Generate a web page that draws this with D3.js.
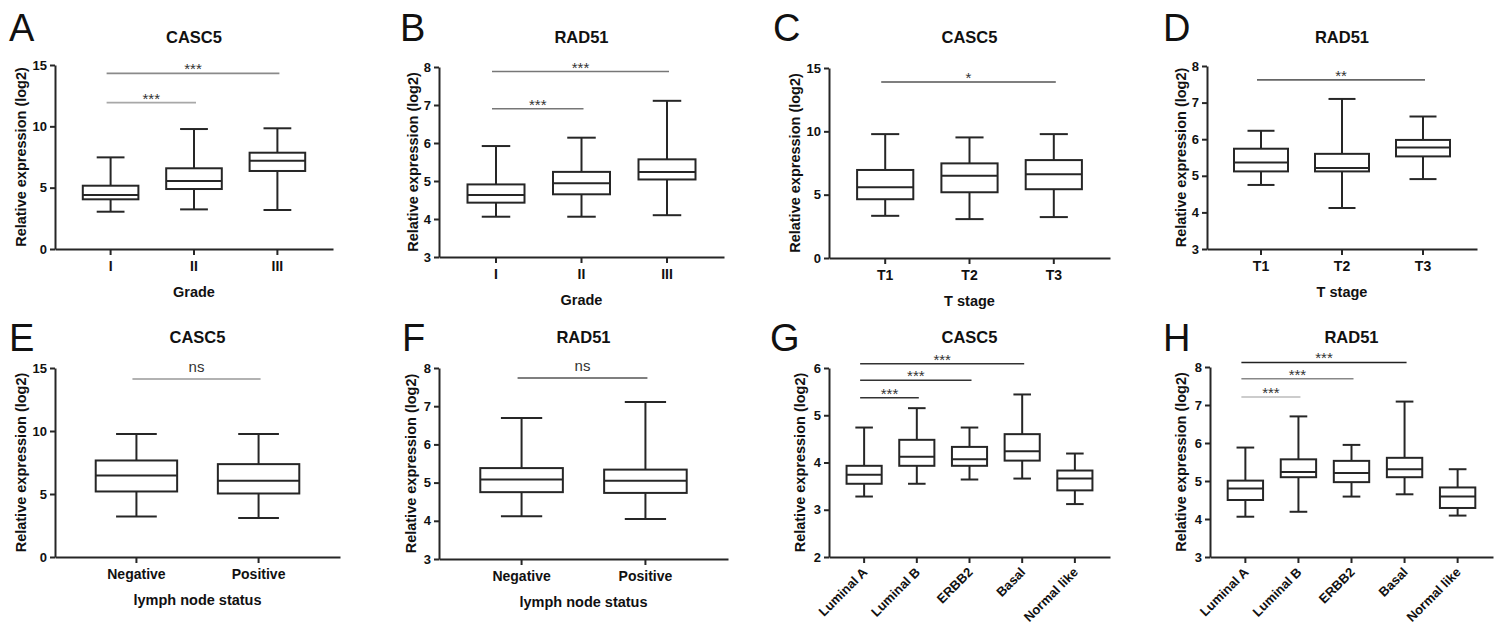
<!DOCTYPE html>
<html>
<head>
<meta charset="utf-8">
<script src="https://cdn.jsdelivr.net/npm/d3@7"></script>
<style>
  body { margin: 0; background: #fff; }
  svg { display: block; font-family: "Liberation Sans", Arial, sans-serif; }
</style>
</head>
<body>
<div id="chart"></div>
<script>
// categories
const gradeCats = ['I', 'II', 'III'];
const stageCats = ['T1', 'T2', 'T3'];
const nodeCats = ['Negative', 'Positive'];
const subtypeCats = ['Luminal A', 'Luminal B', 'ERBB2', 'Basal', 'Normal like'];

// box values: [min, q1, median, q3, max]
const casc5Grade = [[3.04, 4.05, 4.40, 5.16, 7.47], [3.23, 4.89, 5.54, 6.58, 9.78], [3.18, 6.36, 7.20, 7.85, 9.84]];
const rad51Grade = [[4.06, 4.43, 4.63, 4.91, 5.92], [4.06, 4.65, 4.94, 5.24, 6.14], [4.10, 5.04, 5.24, 5.57, 7.11]];
const casc5Stage = [[3.33, 4.64, 5.59, 6.95, 9.78], [3.07, 5.19, 6.50, 7.47, 9.52], [3.23, 5.43, 6.61, 7.73, 9.78]];
const rad51Stage = [[4.75, 5.12, 5.36, 5.74, 6.23], [4.12, 5.12, 5.21, 5.60, 7.10], [4.91, 5.53, 5.77, 5.98, 6.62]];
const casc5Node = [[3.22, 5.20, 6.47, 7.66, 9.77], [3.09, 5.04, 6.05, 7.37, 9.77]];
const rad51Node = [[4.12, 4.75, 5.08, 5.38, 6.69], [4.05, 4.73, 5.05, 5.34, 7.11]];
const casc5Subtype = [[3.28, 3.55, 3.74, 3.93, 4.74], [3.55, 3.93, 4.12, 4.48, 5.15], [3.64, 3.93, 4.07, 4.33, 4.74], [3.66, 4.04, 4.24, 4.60, 5.44], [3.12, 3.41, 3.66, 3.83, 4.19]];
const rad51Subtype = [[4.06, 4.50, 4.80, 5.01, 5.88], [4.19, 5.10, 5.24, 5.57, 6.70], [4.59, 4.97, 5.21, 5.53, 5.95], [4.65, 5.10, 5.31, 5.61, 7.09], [4.09, 4.29, 4.59, 4.83, 5.31]];

// significance bars: [from, to, y value, label]
const sigGradeCasc5 = [[0, 2, 14.32, '***'], [0, 1, 11.93, '***']];
const sigGradeRad51 = [[0, 2, 7.88, '***'], [0, 1, 6.90, '***']];
const sigStageCasc5 = [[0, 2, 13.9, '*']];
const sigStageRad51 = [[0, 2, 7.62, '**']];
const sigNodeCasc5 = [[0, 1, 14.13, 'ns']];
const sigNodeRad51 = [[0, 1, 7.74, 'ns']];
const sigSubtypeCasc5 = [[0, 3, 6.09, '***'], [0, 2, 5.74, '***'], [0, 1, 5.37, '***']];
const sigSubtypeRad51 = [[0, 3, 8.12, '***'], [0, 2, 7.69, '***'], [0, 1, 7.21, '***']];

// y axis ticks
const casc5Ticks = [0, 5, 10, 15];
const rad51Ticks = [3, 4, 5, 6, 7, 8];
const subtypeCasc5Ticks = [2, 3, 4, 5, 6];

const panels = [
  { letter: 'A', title: 'CASC5', xLabel: 'Grade', cats: gradeCats, boxes: casc5Grade, sig: sigGradeCasc5,
    domain: [0, 15], ticks: casc5Ticks, l: 55, r: 333, t: 65, b: 249, lx: 9, ylx: 21, sigColors: ['#8a8a8a', '#a8a8a8'] },
  { letter: 'B', title: 'RAD51', xLabel: 'Grade', cats: gradeCats, boxes: rad51Grade, sig: sigGradeRad51,
    domain: [3, 8], ticks: rad51Ticks, l: 439, r: 724, t: 67, b: 257, lx: 400, ylx: 413, sigColors: ['#777', '#777'] },
  { letter: 'C', title: 'CASC5', xLabel: 'T stage', cats: stageCats, boxes: casc5Stage, sig: sigStageCasc5,
    domain: [0, 15], ticks: casc5Ticks, l: 829, r: 1110, t: 68, b: 258, lx: 773, ylx: 795, sigColors: ['#555'] },
  { letter: 'D', title: 'RAD51', xLabel: 'T stage', cats: stageCats, boxes: rad51Stage, sig: sigStageRad51,
    domain: [3, 8], ticks: rad51Ticks, l: 1207, r: 1477, t: 66, b: 249, lx: 1163, ylx: 1181, sigColors: ['#666'] },
  { letter: 'E', title: 'CASC5', xLabel: 'lymph node status', cats: nodeCats, boxes: casc5Node, sig: sigNodeCasc5,
    domain: [0, 15], ticks: casc5Ticks, l: 55, r: 340, t: 368, b: 557, lx: 9, ylx: 21, sigColors: ['#999'] },
  { letter: 'F', title: 'RAD51', xLabel: 'lymph node status', cats: nodeCats, boxes: rad51Node, sig: sigNodeRad51,
    domain: [3, 8], ticks: rad51Ticks, l: 439, r: 728, t: 368, b: 559, lx: 402, ylx: 411, sigColors: ['#555'] },
  { letter: 'G', title: 'CASC5', xLabel: null, cats: subtypeCats, boxes: casc5Subtype, sig: sigSubtypeCasc5,
    domain: [2, 6], ticks: subtypeCasc5Ticks, l: 829, r: 1110, t: 368, b: 557, lx: 770, ylx: 800, sigColors: ['#333', '#333', '#333'] },
  { letter: 'H', title: 'RAD51', xLabel: null, cats: subtypeCats, boxes: rad51Subtype, sig: sigSubtypeRad51,
    domain: [3, 8], ticks: rad51Ticks, l: 1210, r: 1493, t: 367, b: 557, lx: 1163, ylx: 1181, sigColors: ['#222', '#888', '#bbb'] }
];

const W = 1504, H = 627;
const svg = d3.select('#chart').append('svg')
  .attr('width', W)
  .attr('height', H);

svg.append('rect').attr('width', W).attr('height', H).attr('fill', '#fff');

const ink = '#262626';
const font = '"Liberation Sans", Arial, sans-serif';

panels.forEach((p, pi) => {
  const row = pi < 4 ? 0 : 1;
  const g = svg.append('g');

  const x = d3.scaleBand()
    .domain(p.cats)
    .range([p.l, p.r])
    .paddingInner(1 / 3)
    .paddingOuter(1 / 3);
  const y = d3.scaleLinear().domain(p.domain).range([p.b, p.t]);
  const bw = x.bandwidth();
  const cx = c => x(c) + bw / 2;

  // panel letter
  g.append('text')
    .attr('x', p.lx)
    .attr('y', row === 0 ? 41 : 351)
    .attr('font-size', 38)
    .attr('fill', '#111')
    .text(p.letter);

  // title
  g.append('text')
    .attr('x', (p.l + p.r) / 2)
    .attr('y', row === 0 ? 43 : 343)
    .attr('text-anchor', 'middle')
    .attr('font-size', 16.5)
    .attr('font-weight', 'bold')
    .attr('fill', '#111')
    .text(p.title);

  // y axis
  const yAxis = g.append('g')
    .attr('transform', `translate(${p.l},0)`)
    .call(d3.axisLeft(y).tickValues(p.ticks).tickFormat(d3.format('d'))
      .tickSize(5).tickSizeOuter(0).tickPadding(3));
  yAxis.select('.domain').attr('stroke', ink).attr('stroke-width', 2);
  yAxis.selectAll('.tick line').attr('stroke', ink).attr('stroke-width', 2);
  yAxis.selectAll('.tick text')
    .attr('font-size', 13)
    .attr('font-weight', 'bold')
    .attr('fill', '#111')
    .attr('font-family', font);

  // x axis
  const xAxis = g.append('g')
    .attr('transform', `translate(0,${p.b})`)
    .call(d3.axisBottom(x).tickSize(6).tickSizeOuter(0).tickPadding(6));
  xAxis.select('.domain').attr('stroke', ink).attr('stroke-width', 2);
  xAxis.selectAll('.tick line').attr('stroke', ink).attr('stroke-width', 2);
  const xt = xAxis.selectAll('.tick text')
    .attr('font-size', p.xLabel ? 14 : 13)
    .attr('font-weight', 'bold')
    .attr('fill', '#111')
    .attr('font-family', font);
  if (!p.xLabel) {
    xt.attr('y', 0).attr('dy', 0)
      .attr('text-anchor', 'end')
      .attr('transform', 'translate(4,16) rotate(-45)');
  }

  // y label
  g.append('text')
    .attr('transform', `translate(${p.ylx},${(p.t + p.b) / 2}) rotate(-90)`)
    .attr('dy', '0.35em')
    .attr('text-anchor', 'middle')
    .attr('font-size', 14.5)
    .attr('font-weight', 'bold')
    .attr('fill', '#111')
    .text('Relative expression (log2)');

  // x label
  if (p.xLabel) {
    g.append('text')
      .attr('x', (p.l + p.r) / 2)
      .attr('y', p.b + 48)
      .attr('text-anchor', 'middle')
      .attr('font-size', 14.5)
      .attr('font-weight', 'bold')
      .attr('fill', '#111')
      .text(p.xLabel);
  }

  // boxes
  const box = g.selectAll('.box')
    .data(p.boxes.map((v, i) => ({ cat: p.cats[i], v })))
    .enter()
    .append('g')
    .attr('class', 'box')
    .attr('stroke', ink)
    .attr('stroke-width', 2)
    .attr('fill', 'none');

  box.append('line')
    .attr('x1', d => cx(d.cat)).attr('x2', d => cx(d.cat))
    .attr('y1', d => y(d.v[3])).attr('y2', d => y(d.v[4]));
  box.append('line')
    .attr('x1', d => cx(d.cat)).attr('x2', d => cx(d.cat))
    .attr('y1', d => y(d.v[1])).attr('y2', d => y(d.v[0]));
  box.append('line')
    .attr('x1', d => cx(d.cat) - bw / 4).attr('x2', d => cx(d.cat) + bw / 4)
    .attr('y1', d => y(d.v[4])).attr('y2', d => y(d.v[4]));
  box.append('line')
    .attr('x1', d => cx(d.cat) - bw / 4).attr('x2', d => cx(d.cat) + bw / 4)
    .attr('y1', d => y(d.v[0])).attr('y2', d => y(d.v[0]));
  box.append('rect')
    .attr('x', d => x(d.cat))
    .attr('width', bw)
    .attr('y', d => y(d.v[3]))
    .attr('height', d => y(d.v[1]) - y(d.v[3]))
    .attr('fill', '#fff');
  box.append('line')
    .attr('x1', d => x(d.cat)).attr('x2', d => x(d.cat) + bw)
    .attr('y1', d => y(d.v[2])).attr('y2', d => y(d.v[2]));

  // significance bars
  p.sig.forEach((s, si) => {
    const x1 = cx(p.cats[s[0]]) - 4;
    const x2 = cx(p.cats[s[1]]) + 2;
    const yy = y(s[2]);
    g.append('line')
      .attr('x1', x1).attr('x2', x2)
      .attr('y1', yy).attr('y2', yy)
      .attr('stroke', p.sigColors[si])
      .attr('stroke-width', 1.6);
    const isNs = s[3] === 'ns';
    g.append('text')
      .attr('x', (x1 + x2) / 2)
      .attr('y', isNs ? yy - 7 : yy + 1)
      .attr('text-anchor', 'middle')
      .attr('font-size', 15)
      .attr('fill', '#333')
      .text(s[3]);
  });
});
</script>
</body>
</html>
